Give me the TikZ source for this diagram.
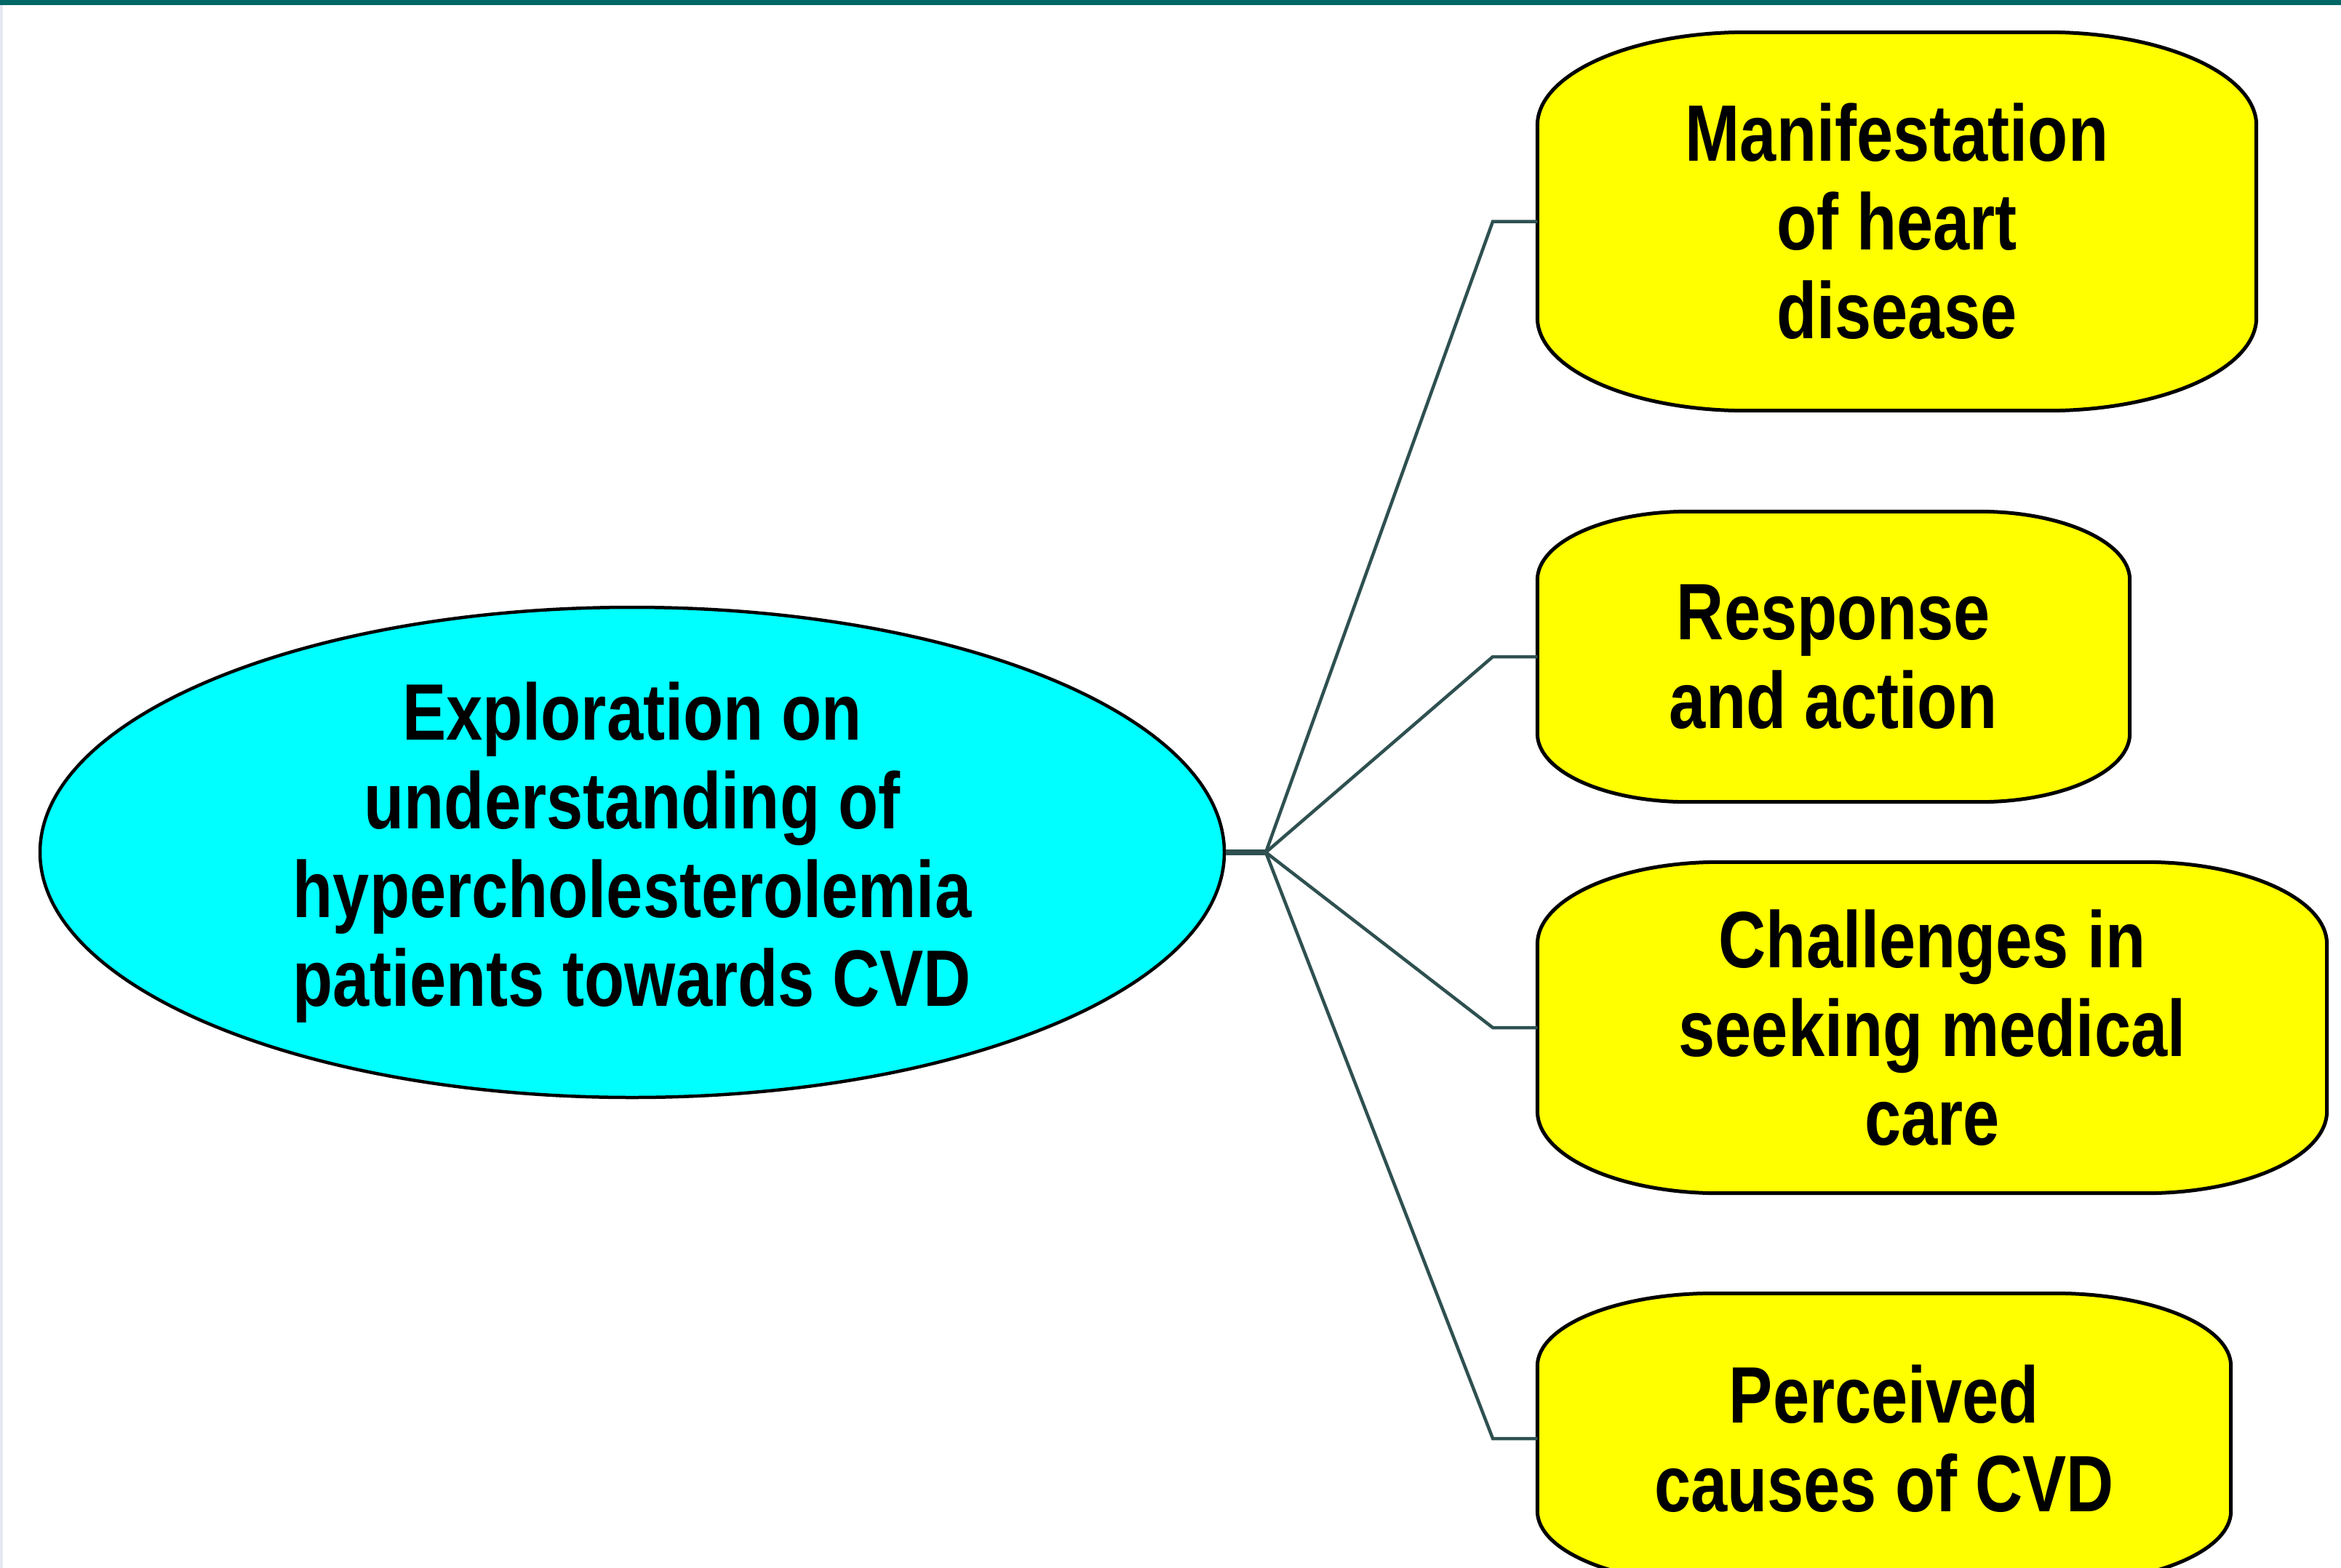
\documentclass[tikz,border=0pt]{standalone}
\usepackage{fontspec}
\setmainfont{Liberation Sans}[FakeStretch=0.82]
\usetikzlibrary{shapes.geometric,backgrounds}
\definecolor{topband}{HTML}{006666}
\definecolor{edgestrip}{HTML}{E6E9F2}
\definecolor{linkcol}{HTML}{2F5050}
\definecolor{rootfill}{HTML}{00FFFF}
\definecolor{leaffill}{HTML}{FFFF00}
\tikzset{
  label text/.style={font=\bfseries\fontsize{31.3}{34.7}\selectfont, align=center, text=black, inner sep=0pt},
  rootnode/.style={label text, ellipse, draw=black, line width=0.045cm, fill=rootfill},
  leafnode/.style={label text, rectangle},
  leafline/.style={draw=black, line width=0.05cm, fill=leaffill},
  link/.style={draw=linkcol, line width=0.045cm, line join=miter},
  trunk/.style={draw=linkcol, line width=0.085cm}
}
% outline with straight sides and elliptical corners: node name, x radius, y radius
\newcommand\ovaloutline[3]{%
  \filldraw[leafline] ([yshift=-#3]#1.north west) -- ([yshift=#3]#1.south west)
    arc[start angle=180, end angle=270, x radius=#2, y radius=#3]
    -- ([xshift=-#2]#1.south east)
    arc[start angle=270, end angle=360, x radius=#2, y radius=#3]
    -- ([yshift=-#3]#1.north east)
    arc[start angle=0, end angle=90, x radius=#2, y radius=#3]
    -- ([xshift=#2]#1.north west)
    arc[start angle=90, end angle=180, x radius=#2, y radius=#3] -- cycle;}
\begin{document}
\begin{tikzpicture}
\useasboundingbox (0,0) rectangle (32.18,-21.56);
\clip (0,0) rectangle (32.18,-21.56);

% central topic
\node[rootnode, minimum width=16.28cm, minimum height=6.74cm] (root) at (8.69,-11.72)
  {Exploration on\\understanding of\\hypercholesterolemia\\patients towards CVD};

% themes
\node[leafnode, minimum width=9.87cm, minimum height=5.19cm] (b1) at (26.075,-3.045)
  {Manifestation\\of heart\\disease};
\node[leafnode, minimum width=8.13cm, minimum height=3.98cm] (b2) at (25.205,-9.03)
  {Response\\and action};
\node[leafnode, minimum width=10.84cm, minimum height=4.54cm] (b3) at (26.56,-14.13)
  {Challenges in\\seeking medical\\care};
\node[leafnode, minimum width=9.52cm, minimum height=3.98cm] (b4) at (25.90,-19.78)
  {Perceived\\causes of CVD};

\begin{pgfonlayer}{background}
  % page, top rule and left edge
  \fill[white] (0,0) rectangle (32.18,-21.56);
  \fill[topband] (0,0) rectangle (32.18,-0.067);
  \fill[edgestrip] (0,-0.067) rectangle (0.035,-21.56);
  % theme outlines
  \ovaloutline{b1}{2.87cm}{1.28cm}
  \ovaloutline{b2}{2.07cm}{0.94cm}
  \ovaloutline{b3}{2.50cm}{1.13cm}
  \ovaloutline{b4}{2.42cm}{1.00cm}
\end{pgfonlayer}

% branching connectors
\coordinate (hub) at (17.40,-11.72);
\coordinate (elbow) at (20.52,0);
\draw[trunk] (root.east) -- (hub);
\foreach \b in {b1,b2,b3,b4}
  \draw[link] (hub) -- (\b.west -| elbow) -- (\b.west);
\end{tikzpicture}
\end{document}
